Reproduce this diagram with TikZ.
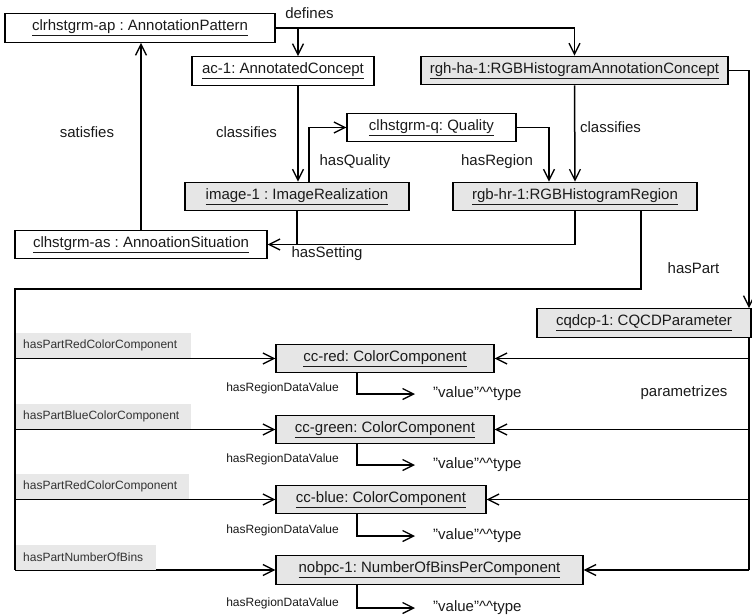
\documentclass[tikz,border=0pt]{standalone}
\usepackage{fontspec}
\setmainfont{Liberation Sans}
\usetikzlibrary{arrows.meta}
\definecolor{boxgray}{HTML}{E6E6E6}
\definecolor{tagbg}{HTML}{E8E8E8}
\definecolor{ink}{HTML}{1A1A1A}
\frenchspacing
\tikzset{
  obj/.style={draw=black, line width=1.3pt, minimum height=28.5pt, inner sep=0pt,
    font=\fontsize{15}{17}\selectfont, text=ink},
  objg/.style={obj, fill=boxgray},
  conn/.style={line width=1.5pt, -{Straight Barb[length=11pt,width=11pt,line width=1.3pt]}},
  wire/.style={line width=1.5pt},
  rel/.style={font=\fontsize{15}{17}\selectfont, text=ink, inner sep=0pt},
  small/.style={font=\fontsize{12}{14}\selectfont, text=ink, inner sep=0pt},
  tag/.style={fill=tagbg, font=\fontsize{12}{14}\selectfont, text=black!80,
    inner xsep=7pt, inner ysep=0pt, minimum height=25pt, align=left, anchor=south west},
  valtext/.style={font=\fontsize{15}{17}\selectfont, text=ink, inner sep=0pt, anchor=west}
}
\newcommand{\ul}[1]{\underline{#1}}
\newcommand{\valtype}{"value"\textasciicircum\textasciicircum type}
\begin{document}
\begin{tikzpicture}[x=1pt,y=-1pt]
\useasboundingbox (0,0) rectangle (752,615);

% objects
\node[obj,  minimum width=270pt] (ap)  at (140,28)    {\ul{clrhstgrm-ap : AnnotationPattern}};
\node[obj,  minimum width=182pt] (ac)  at (283,71)    {\ul{ac-1: AnnotatedConcept}};
\node[objg, minimum width=307pt] (rgh) at (574.5,70.5) {\ul{rgh-ha-1:RGBHistogramAnnotationConcept}};
\node[obj,  minimum width=169pt] (q)   at (431.5,127.5) {\ul{clhstgrm-q: Quality}};
\node[objg, minimum width=224pt] (img) at (297,196.5) {\ul{image-1 : ImageRealization}};
\node[objg, minimum width=244pt] (hr)  at (575,196.5) {\ul{rgb-hr-1:RGBHistogramRegion}};
\node[obj,  minimum width=252pt] (as)  at (141,244.5) {\ul{clhstgrm-as : AnnoationSituation}};
\node[objg, minimum width=214pt] (cq)  at (644,323)   {\ul{cqdcp-1: CQCDParameter}};
\node[objg, minimum width=218pt] (red)   at (385,358.5) {\ul{cc-red: ColorComponent}};
\node[objg, minimum width=218pt] (green) at (385,429.5) {\ul{cc-green: ColorComponent}};
\node[objg, minimum width=210pt] (blue)  at (381,499.5) {\ul{cc-blue: ColorComponent}};
\node[objg, minimum width=307pt] (nob)   at (429.5,570) {\ul{nobpc-1: NumberOfBinsPerComponent}};

% literal values
\node[valtext] (vred)   at (433,394) {\valtype};
\node[valtext] (vgreen) at (433,465) {\valtype};
\node[valtext] (vblue)  at (433,536) {\valtype};
\node[valtext] (vnob)   at (433,608) {\valtype};

% junction points
\coordinate (dj) at (298,28);
\coordinate (lbus) at (15,289);
\coordinate (rbus) at (749,337);

% upper part
\draw[conn] (ap.east) -| (rgh.north);
\draw[conn] (dj) -- (ac.north -| dj);
\draw[conn] (as.north) -- (as.north |- ap.south);
\draw[conn] (ac.south -| dj) -- (img.north -| dj);
\draw[conn] ([xshift=12pt]img.north) |- (q.west);
\draw[conn] (q.east) -| ([xshift=-26pt]hr.north);
\draw[conn] (rgh.south) -- (hr.north);
\draw[wire] (img.south) -- (img.south |- as.east);
\draw[conn] (hr.south) |- (as.east);
\draw[conn] (rgh.east) -| (rbus |- cq.north);

% relation labels
\node[rel] (l1) at (309.5,13) {defines};
\node[rel] (l2) at (87,132) {satisfies};
\node[rel] (l3) at (246.5,132) {classifies};
\node[rel] (l4) at (355,162) {hasQuality};
\node[rel] (l5) at (497,162) {hasRegion};
\node[rel] (l6) at (610.5,127) {classifies};
\node[rel] (l7) at (327,254) {hasSetting};
\node[rel] (l8) at (693.5,268) {hasPart};
\node[rel] (l9) at (684,393) {parametrizes};

% left bus: parts of the histogram region
\draw[wire] ([xshift=66pt]hr.south) |- (lbus) -- (lbus |- nob.west);
\foreach \t in {red,green,blue,nob}
  \draw[conn] (lbus |- \t.west) -- (\t.west);
\node[tag, text width=161pt] (t1) at (16,358.5) {hasPartRedColorComponent};
\node[tag, text width=161pt] (t2) at (16,429.5) {hasPartBlueColorComponent};
\node[tag, text width=159pt] (t3) at (16,499.5) {hasPartRedColorComponent};
\node[tag, text width=126pt] (t4) at (16,570)   {hasPartNumberOfBins};

% right bus: parameter links
\draw[wire] (cq.south -| rbus) -- (rbus |- nob.east);
\foreach \t in {red,green,blue,nob}
  \draw[conn] (rbus |- \t.east) -- (\t.east);

% data values
\foreach \t/\v in {red/vred,green/vgreen,blue/vblue,nob/vnob} {
  \draw[conn, shorten >=18pt] ([xshift=-28pt]\t.south -| 385,0) |- (\v.west);
}
\node[small, anchor=east] (d1) at (339,388) {hasRegionDataValue};
\node[small, anchor=east] (d2) at (339,459) {hasRegionDataValue};
\node[small, anchor=east] (d3) at (339,530) {hasRegionDataValue};
\node[small, anchor=east] (d4) at (339,603) {hasRegionDataValue};
\end{tikzpicture}
\end{document}
